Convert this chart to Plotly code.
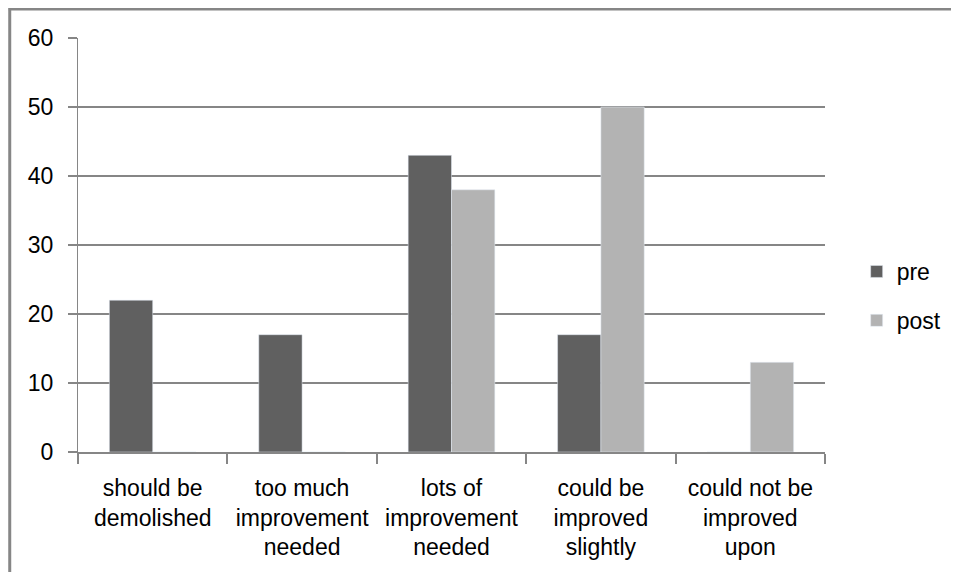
import plotly.graph_objects as go

categories = ["should be<br>demolished", "too much<br>improvement<br>needed",
              "lots of<br>improvement<br>needed", "could be<br>improved<br>slightly",
              "could not be<br>improved<br>upon"]
pre = [22, 17, 43, 17, 0]
post = [0, 0, 38, 50, 13]
y_ticks = [0, 10, 20, 30, 40, 50, 60]

# page body has an 8px margin, so the figure is sized to fit the window
W, H = 951, 564
L, T, PW, PH = 70, 30, 755, 414


def px(x):
    return (x - L) / PW


def py(y):
    return 1 - (y - T) / PH


fig = go.Figure()
fig.add_trace(go.Bar(x=categories, y=pre, name="pre", marker_color="#606060",
                     legendgroup="a"))
fig.add_trace(go.Bar(x=categories, y=post, name="post", marker_color="#b3b3b3",
                     legendgroup="b"))

fig.update_layout(
    width=W, height=H,
    margin=dict(l=L, r=W - L - PW, t=T, b=H - T - PH),
    paper_bgcolor="#ffffff", plot_bgcolor="#ffffff",
    font=dict(family="Liberation Sans", size=23, color="#000000"),
    barmode="group", bargap=0.42, bargroupgap=0,
    showlegend=True,
    legend=dict(x=px(857), y=py(288), xanchor="left", yanchor="middle",
                tracegroupgap=16, font=dict(size=23), itemwidth=30),
    xaxis=dict(showline=True, linecolor="#868686", linewidth=2,
               ticks="outside", tickson="boundaries", ticklen=10,
               tickcolor="#868686", tickwidth=2, showgrid=False,
               ticklabelstandoff=14),
    yaxis=dict(range=[0, 60], tickvals=y_ticks, showline=True,
               linecolor="#868686", linewidth=1, gridcolor="#868686",
               gridwidth=2, ticks="outside", ticklen=9, tickcolor="#868686",
               tickwidth=2, ticklabelstandoff=10, zeroline=False),
    shapes=[
        dict(type="line", xref="paper", yref="paper", x0=px(0), x1=px(W + 10),
             y0=py(1), y1=py(1), line=dict(color="#868686", width=3)),
        dict(type="line", xref="paper", yref="paper", x0=px(1), x1=px(1),
             y0=py(H + 10), y1=py(0), line=dict(color="#868686", width=3)),
    ],
)

fig.write_html("out.html")
